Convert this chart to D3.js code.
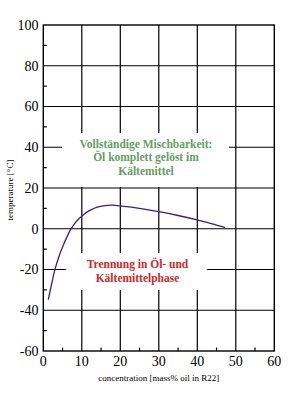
<!DOCTYPE html>
<html>
<head>
<meta charset="utf-8">
<script src="https://cdn.jsdelivr.net/npm/d3@7"></script>
<style>
  html, body { margin: 0; padding: 0; background: #fff; }
  svg { display: block; }
</style>
</head>
<body>
<div id="chart"></div>
<script>
// Data
const concentration = [1.3, 2, 3, 4, 5, 6, 7, 8, 9, 10, 11, 12, 14, 16, 18, 20, 25, 30, 35, 40, 45, 47.2];
const temperature   = [-34.8, -28.5, -20.2, -14, -9, -4.6, -0.7, 2.2, 4.4, 6.2, 7.7, 8.9, 10.6, 11.4, 11.6, 11.2, 10, 8.4, 6.5, 4.3, 1.8, 0.7];
const xTicks = [0, 10, 20, 30, 40, 50, 60];
const yTicks = [-60, -40, -20, 0, 20, 40, 60, 80, 100];
const xMinor = [5, 15, 25, 35, 45, 55];
const yMinor = [-50, -30, -10, 10, 30, 50, 70, 90];
const greenLabel = ["Vollständige Mischbarkeit:", "Öl komplett gelöst im", "Kältemittel"];
const redLabel = ["Trennung in Öl- und", "Kältemittelphase"];
const xTitle = "concentration [mass% oil in R22]";
const yTitle = "temperature [°C]";

const W = 300, H = 400;
const m = {left: 43.3, right: 300 - 274.3, top: 25, bottom: 400 - 351};
const svg = d3.select("#chart").append("svg").attr("width", W).attr("height", H);

const x = d3.scaleLinear().domain([0, 60]).range([m.left, W - m.right]);
const y = d3.scaleLinear().domain([-60, 100]).range([H - m.bottom, m.top]);

const serif = "'Liberation Serif', 'Times New Roman', serif";

// grid lines
const g = svg.append("g").attr("stroke", "#000").attr("stroke-width", 1.2);
g.selectAll("line.v").data(xTicks.slice(1, -1)).enter().append("line")
  .attr("x1", d => x(d)).attr("x2", d => x(d)).attr("y1", y(100)).attr("y2", y(-60));
g.selectAll("line.h").data(yTicks.slice(1, -1)).enter().append("line")
  .attr("x1", x(0)).attr("x2", x(60)).attr("y1", d => y(d)).attr("y2", d => y(d));
// minor ticks
g.selectAll("line.my").data(yMinor).enter().append("line")
  .attr("x1", x(0)).attr("x2", x(0) + 3.5).attr("y1", d => y(d)).attr("y2", d => y(d));
g.selectAll("line.mx").data(xMinor).enter().append("line")
  .attr("x1", d => x(d)).attr("x2", d => x(d)).attr("y1", y(-60)).attr("y2", y(-60) - 3.5);

// white label boxes over grid
svg.append("rect").attr("x", 62).attr("y", 133).attr("width", 167).attr("height", 54).attr("fill", "#fff");
svg.append("rect").attr("x", 66).attr("y", 253).attr("width", 141).attr("height", 37).attr("fill", "#fff");

// frame
svg.append("rect").attr("x", x(0)).attr("y", y(100))
  .attr("width", x(60) - x(0)).attr("height", y(-60) - y(100))
  .attr("fill", "none").attr("stroke", "#000").attr("stroke-width", 1.4);

// curve
const line = d3.line().x((d, i) => x(concentration[i])).y(d => y(d)).curve(d3.curveCatmullRom.alpha(0.5));
svg.append("path").datum(temperature).attr("d", line)
  .attr("fill", "none").attr("stroke", "#3a1a9e").attr("stroke-width", 1.3);

// tick labels
svg.append("g").selectAll("text").data(yTicks).enter().append("text")
  .attr("x", 38.5).attr("y", d => y(d)).attr("dy", "0.35em")
  .attr("text-anchor", "end").attr("font-family", serif).attr("font-size", 14)
  .text(d => d);
svg.append("g").selectAll("text").data(xTicks).enter().append("text")
  .attr("x", d => x(d)).attr("y", 366)
  .attr("text-anchor", "middle").attr("font-family", serif).attr("font-size", 14)
  .text(d => d);

// axis titles
svg.append("text").attr("x", 158.7).attr("y", 381).attr("text-anchor", "middle")
  .attr("font-family", serif).attr("font-size", 9).text(xTitle);
svg.append("text").attr("transform", "translate(13,190) rotate(-90)").attr("text-anchor", "middle")
  .attr("font-family", serif).attr("font-size", 9).text(yTitle);

// annotations
svg.append("g").selectAll("text").data(greenLabel).enter().append("text")
  .attr("x", 146).attr("y", (d, i) => 147.5 + i * 13.5).attr("text-anchor", "middle")
  .attr("font-family", serif).attr("font-weight", "bold").attr("font-size", 11.5)
  .attr("fill", "#62a060").text(d => d);
svg.append("g").selectAll("text").data(redLabel).enter().append("text")
  .attr("x", 137.5).attr("y", (d, i) => 267.5 + i * 14.3).attr("text-anchor", "middle")
  .attr("font-family", serif).attr("font-weight", "bold").attr("font-size", 11.5)
  .attr("fill", "#d02828").text(d => d);
</script>
</body>
</html>
